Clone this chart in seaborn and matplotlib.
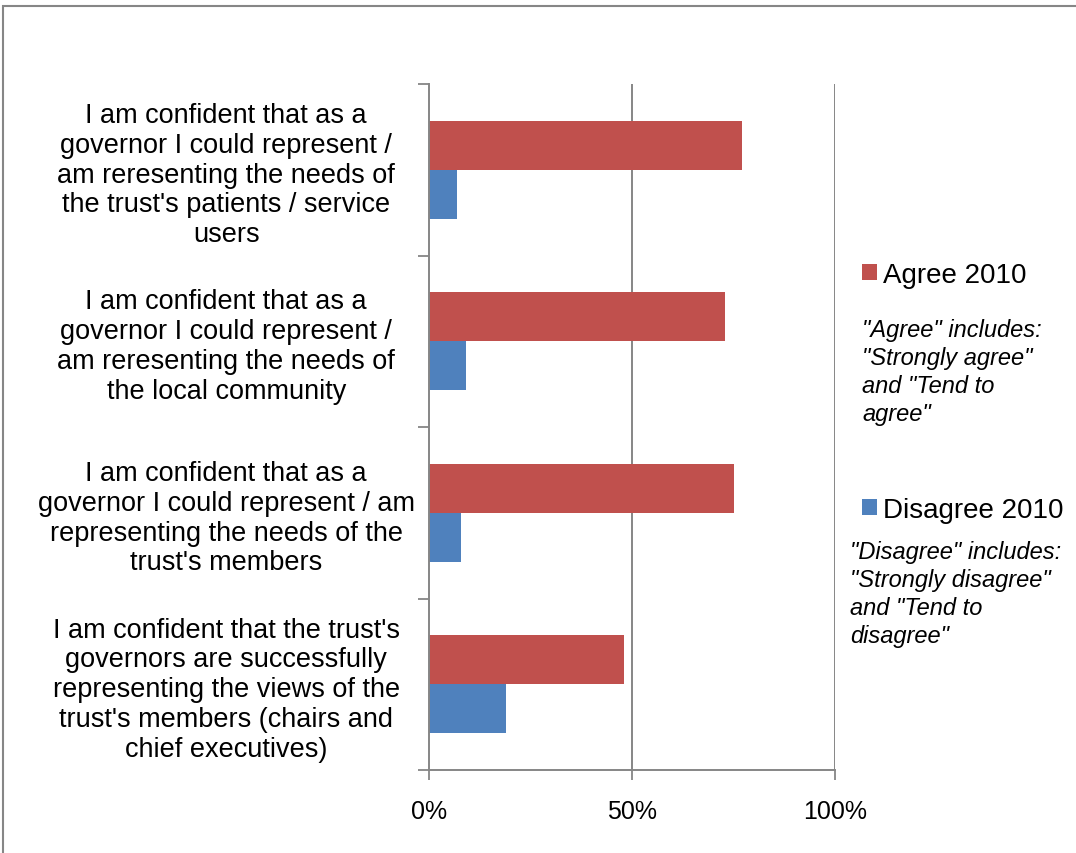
import matplotlib
matplotlib.use("Agg")
import matplotlib.pyplot as plt
import matplotlib.patches as mpatches
from matplotlib.ticker import FixedLocator
import pandas as pd
import seaborn as sns

# Survey statements (top to bottom)
statements = [
    "I am confident that as a\ngovernor I could represent /\nam reresenting the needs of\nthe trust's patients / service\nusers",
    "I am confident that as a\ngovernor I could represent /\nam reresenting the needs of\nthe local community",
    "I am confident that as a\ngovernor I could represent / am\nrepresenting the needs of the\ntrust's members",
    "I am confident that the trust's\ngovernors are successfully\nrepresenting the views of the\ntrust's members (chairs and\nchief executives)",
]
series_names = ["Agree 2010", "Disagree 2010"]
agree_2010 = [77, 73, 75, 48]
disagree_2010 = [7, 9, 8, 19]
x_ticks = [0, 50, 100]
x_tick_labels = ["0%", "50%", "100%"]
agree_note = '"Agree" includes:\n"Strongly agree"\nand "Tend to\nagree"'
disagree_note = '"Disagree" includes:\n"Strongly disagree"\nand "Tend to\ndisagree"'

RED = "#C0504D"
BLUE = "#4F81BD"
GREY = "#868686"

df = pd.DataFrame({
    "statement": statements * 2,
    "series": [series_names[0]] * len(statements) + [series_names[1]] * len(statements),
    "value": agree_2010 + disagree_2010,
})

sns.set_theme(style="white")
plt.rcParams["font.family"] = ["Liberation Sans", "DejaVu Sans"]

W, H = 1076, 854
fig = plt.figure(figsize=(W / 100, H / 100), dpi=100)
ax = fig.add_axes([429 / W, 1 - 771 / H, (835 - 429) / W, (771 - 85) / H])

sns.barplot(
    data=df, x="value", y="statement", hue="series",
    hue_order=series_names, order=statements,
    palette=[RED, BLUE], orient="h", width=0.573,
    linewidth=0, saturation=1, ax=ax, legend=False,
)

ax.set_xlim(0, 100)
ax.set_ylim(len(statements) - 0.5, -0.5)
ax.set_xlabel("")
ax.set_ylabel("")

# x axis: percent ticks, vertical gridlines
ax.set_xticks(x_ticks)
ax.set_xticklabels(x_tick_labels, fontsize=18, color="black")
ax.tick_params(axis="x", direction="out", length=7, width=1.3, color=GREY, pad=14, bottom=True)
for xv in x_ticks[1:]:
    ax.axvline(xv, color=GREY, lw=1.4, zorder=0.5)

# y axis: ticks at category boundaries, labels centred on categories
n = len(statements)
ax.yaxis.set_major_locator(FixedLocator([i - 0.5 for i in range(n + 1)]))
ax.yaxis.set_minor_locator(FixedLocator(list(range(n))))
ax.set_yticklabels([""] * (n + 1))
ax.set_yticklabels(statements, minor=True)
ax.tick_params(axis="y", which="major", direction="out", length=8, width=1.3, color=GREY, left=True)
ax.tick_params(axis="y", which="minor", length=0, pad=146, labelsize=19.5)
for lbl in ax.get_yticklabels(minor=True):
    lbl.set_horizontalalignment("center")
    lbl.set_multialignment("center")
    lbl.set_linespacing(1.19)
    lbl.set_color("black")

for side in ["top", "right"]:
    ax.spines[side].set_visible(False)
for side in ["left", "bottom"]:
    ax.spines[side].set_color(GREY)
    ax.spines[side].set_linewidth(1.4)

# Legend entries, each followed by its definition note
handles = [mpatches.Patch(facecolor=RED, edgecolor="none", label=series_names[0]),
           mpatches.Patch(facecolor=BLUE, edgecolor="none", label=series_names[1])]
leg_kw = dict(frameon=False, fontsize=20, handlelength=0.54, handleheight=0.54,
              handletextpad=0.22, borderpad=0, borderaxespad=0, loc="center left",
              labelcolor="black")
leg1 = fig.legend(handles=[handles[0]], bbox_to_anchor=(862 / W, 1 - 276 / H), **leg_kw)
leg2 = fig.legend(handles=[handles[1]], bbox_to_anchor=(862 / W, 1 - 511 / H), **leg_kw)

fig.text(862 / W, 1 - 319 / H, agree_note, fontsize=17, style="italic",
         va="top", ha="left", linespacing=1.275, color="black")
fig.text(850 / W, 1 - 541 / H, disagree_note, fontsize=17, style="italic",
         va="top", ha="left", linespacing=1.275, color="black")

# Chart area border
fig.add_artist(mpatches.Rectangle((3 / W, -0.05), 1.2, 1 - 7 / H + 0.05,
                                  transform=fig.transFigure, fill=False,
                                  edgecolor=GREY, lw=1.5, clip_on=False))

fig.savefig("out.png", dpi=100, facecolor="white")
